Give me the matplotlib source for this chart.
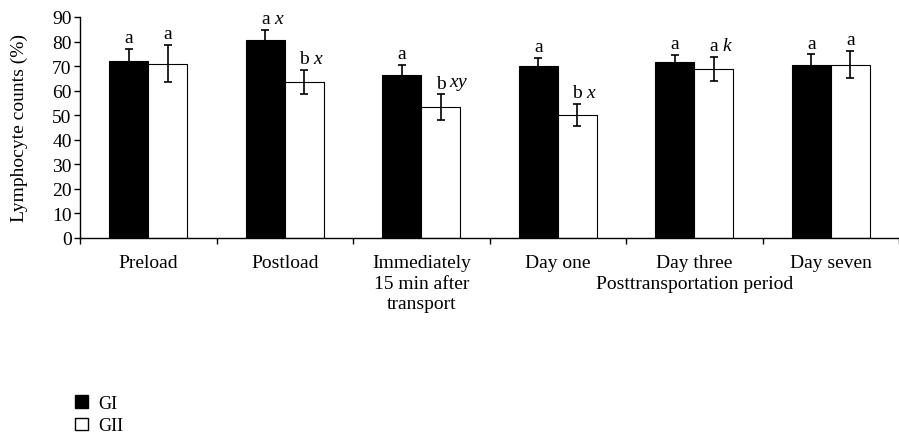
import matplotlib.pyplot as plt
from matplotlib.patches import Patch
from matplotlib.transforms import blended_transform_factory
import numpy as np

categories = ['Preload', 'Postload', 'Immediately\n15 min after\ntransport',
              'Day one', 'Day three', 'Day seven']
gi_mean = [72, 80.6, 66.4, 70.2, 71.5, 70.6]
gi_err = [5.0, 4.2, 4.2, 3.0, 3.0, 4.2]
gii_mean = [71, 63.6, 53.2, 50.2, 68.8, 70.6]
gii_err = [7.5, 5.0, 5.3, 4.5, 4.8, 5.5]
gi_letters = [('a', ''), ('a', 'x'), ('a', ''), ('a', ''), ('a', ''), ('a', '')]
gii_letters = [('a', ''), ('b', 'x'), ('b', 'xy'), ('b', 'x'), ('a', 'k'), ('a', '')]

plt.rcParams['font.family'] = ['Liberation Serif', 'DejaVu Serif']
plt.rcParams['mathtext.fontset'] = 'custom'
plt.rcParams['mathtext.it'] = 'Liberation Serif:italic'
plt.rcParams['mathtext.rm'] = 'Liberation Serif'

fs = 14

fig = plt.figure(figsize=(8.99, 4.35), dpi=100)
ax = fig.add_axes([80 / 899, 1 - 239 / 435, 819 / 899, 221 / 435])

x = np.arange(len(categories))
w = 0.285
ax.bar(x - w / 2, gi_mean, w, color='black', edgecolor='black', linewidth=0.8,
       yerr=gi_err, error_kw=dict(ecolor='black', elinewidth=1.2, capsize=3, capthick=1.2))
ax.bar(x + w / 2, gii_mean, w, color='white', edgecolor='black', linewidth=0.8,
       yerr=gii_err, error_kw=dict(ecolor='black', elinewidth=1.2, capsize=3, capthick=1.2))

# significance letters above the bars
for xs, means, errs, letters in [(x - w / 2, gi_mean, gi_err, gi_letters),
                                  (x + w / 2, gii_mean, gii_err, gii_letters)]:
    for xi, m, e, (base, suf) in zip(xs, means, errs, letters):
        ax.annotate(base, (xi, m + e), xytext=(0, 2), textcoords='offset points',
                    ha='center', va='bottom', fontsize=fs)
        if suf:
            ax.annotate('$\\mathit{' + suf + '}$', (xi, m + e), xytext=(6, 2),
                        textcoords='offset points', ha='left', va='bottom', fontsize=fs)

ax.set_ylim(0, 90)
ax.set_xlim(-0.5, 5.435)
ax.set_yticks(range(0, 91, 10))
ax.set_xticks(np.arange(-0.5, 6, 1))
ax.set_xticklabels([])
ax.set_xticks(x, minor=True)
ax.set_xticklabels(categories, minor=True, fontsize=fs, linespacing=1.28)
ax.tick_params(axis='x', which='major', direction='out', length=4, width=1)
ax.tick_params(axis='x', which='minor', length=0, pad=11.5)
ax.tick_params(axis='y', direction='out', length=4, width=1, labelsize=fs, pad=2)
for s in ['top', 'right']:
    ax.spines[s].set_visible(False)
for s in ['left', 'bottom']:
    ax.spines[s].set_linewidth(1)

ax.set_ylabel('Lymphocyte counts (%)', fontsize=fs)
ax.yaxis.set_label_coords(-0.064, 0.5)

trans = blended_transform_factory(ax.transData, ax.transAxes)
ax.annotate('Posttransportation period', (4, 0), xycoords=trans,
            xytext=(0, -33), textcoords='offset points',
            ha='center', va='center', fontsize=fs)

handles = [Patch(facecolor='black', edgecolor='black', label='GI'),
           Patch(facecolor='white', edgecolor='black', label='GII')]
fig.legend(handles=handles, loc='upper left', bbox_to_anchor=(75 / 899, 1 - 396 / 435),
           frameon=False, fontsize=13, handlelength=0.7, handleheight=0.7,
           handletextpad=0.6, labelspacing=0.3, borderpad=0, borderaxespad=0)

fig.savefig('out.png', dpi=100)
